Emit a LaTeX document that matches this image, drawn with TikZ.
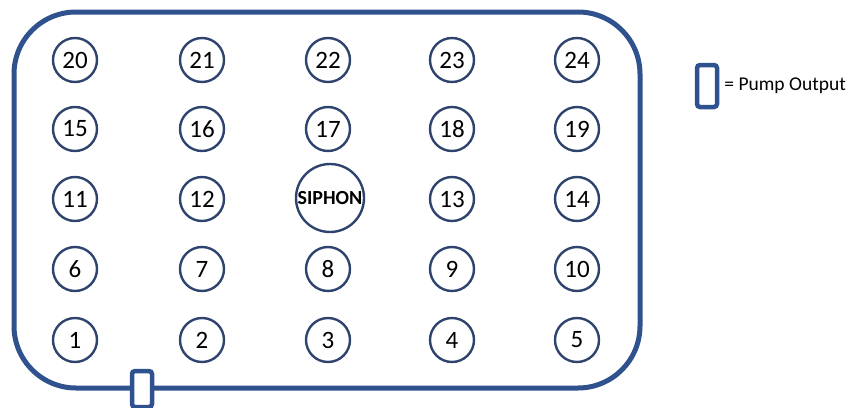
\documentclass[tikz,border=0pt]{standalone}
\usepackage{fontspec}
\setmainfont{Carlito}
\definecolor{tankblue}{RGB}{47,82,143}
\definecolor{holeblue}{RGB}{46,68,110}
\begin{document}
\begin{tikzpicture}[x=1pt,y=-1pt]
    \tikzset{hole/.style={circle, draw=holeblue, line width=2.4pt, minimum size=44pt, inner sep=0pt, font=\fontsize{25}{27}\selectfont},
             pump/.style={draw=tankblue, fill=white, line width=4.5pt, rounded corners=3pt, minimum width=20pt, inner sep=0pt}}
    \useasboundingbox (0,0) rectangle (846,407);
    % tank outline
    \draw[tankblue, line width=5pt, rounded corners=62pt] (14,12) rectangle (640,388);
    % holes, row by row
    \node[hole] (h20) at (75,60) {20};
    \node[hole] (h21) at (202,60) {21};
    \node[hole] (h22) at (328,60) {22};
    \node[hole] (h23) at (452,60) {23};
    \node[hole] (h24) at (577,60) {24};
    \node[hole] (h15) at (75,129) {15};
    \node[hole] (h16) at (202,129) {16};
    \node[hole] (h17) at (328,129) {17};
    \node[hole] (h18) at (452,129) {18};
    \node[hole] (h19) at (577,129) {19};
    \node[hole] (h11) at (75,199) {11};
    \node[hole] (h12) at (202,199) {12};
    \node[hole, minimum size=68pt, font=\bfseries\fontsize{20}{22}\selectfont] (siphon) at (330,198) {SIPHON};
    \node[hole] (h13) at (452,199) {13};
    \node[hole] (h14) at (577,199) {14};
    \node[hole] (h6) at (75,269) {6};
    \node[hole] (h7) at (202,269) {7};
    \node[hole] (h8) at (328,269) {8};
    \node[hole] (h9) at (452,269) {9};
    \node[hole] (h10) at (577,269) {10};
    \node[hole] (h1) at (75,340) {1};
    \node[hole] (h2) at (202,340) {2};
    \node[hole] (h3) at (328,340) {3};
    \node[hole] (h4) at (452,340) {4};
    \node[hole] (h5) at (577,340) {5};
    % pump output on the tank wall
    \node[pump, minimum height=36pt] (outlet) at (142,389) {};
    % legend
    \node[pump, minimum height=42pt] (key) at (707,86) {};
    \node[anchor=west, inner sep=0pt, font=\fontsize{19.5}{21}\selectfont] (keytext) at ([xshift=5pt]key.east) {= Pump Output};
\end{tikzpicture}
\end{document}
